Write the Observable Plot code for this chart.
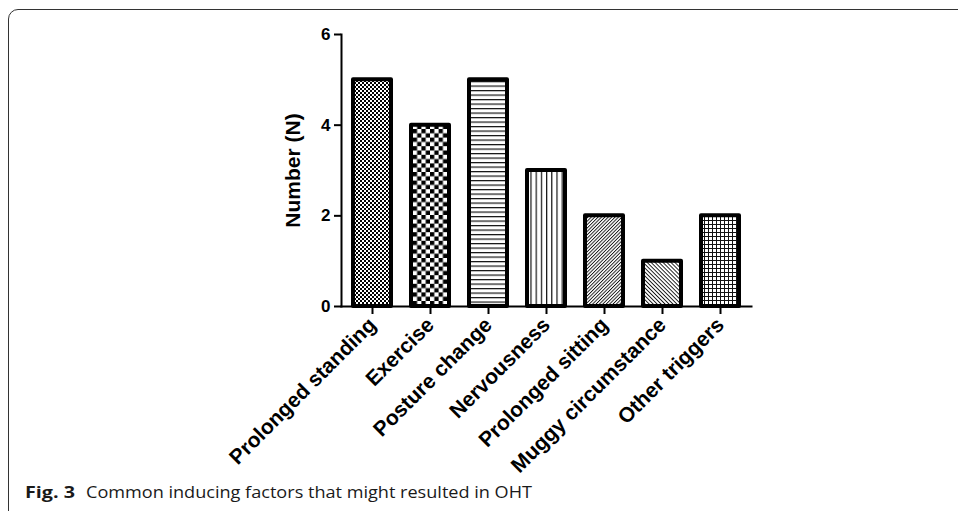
<!DOCTYPE html>
<html>
<head>
<meta charset="utf-8">
<script src="https://cdn.jsdelivr.net/npm/d3@7"></script>
<script src="https://cdn.jsdelivr.net/npm/@observablehq/plot@0.6"></script>
<style>
  html, body { margin: 0; padding: 0; background: #fff; overflow: hidden; }
  body { width: 958px; height: 511px; position: relative; }
  #frame { position: absolute; left: 8px; top: 9px; width: 1000px; height: 520px;
           border: 1.5px solid #333; border-radius: 10px; box-sizing: border-box; }
  #chart { position: absolute; left: 0; top: 0; }
  .cap { position: absolute; top: 484px; font-family: "Open Sans", sans-serif; font-size: 16px; line-height: 1;
         color: #1a1a1a; white-space: nowrap; display: inline-block; transform-origin: 0 0; }
  #capA { left: 25px; font-weight: bold; }
  #capB { left: 86px; }
</style>
</head>
<body>
<div id="frame"></div>
<div id="chart"></div>
<span class="cap" id="capA">Fig. 3</span>
<span class="cap" id="capB">Common inducing factors that might resulted in OHT</span>
<script>
const categories = ["Prolonged standing", "Exercise", "Posture change", "Nervousness", "Prolonged sitting", "Muggy circumstance", "Other triggers"];
const counts = [5, 4, 5, 3, 2, 1, 2];
const patternIds = ["fineCheck", "bigCheck", "hLines", "vLines", "diagUp", "diagDown", "grid"];
const yTicks = [0, 2, 4, 6];
const yLabel = "Number (N)";

const data = categories.map((c, i) => ({category: c, value: counts[i], fill: `url(#${patternIds[i]})`}));

const H = 500;
const svg = Plot.plot({
  width: 958,
  height: H,
  marginLeft: 341,
  marginRight: 207,
  marginTop: 34,
  marginBottom: H - 306,
  style: {fontFamily: "'Liberation Sans', Arial, sans-serif", color: "#000", background: "transparent"},
  x: {domain: categories, paddingInner: 0.35, paddingOuter: 0.19},
  y: {domain: [0, 6]},
  color: {type: "identity"},
  marks: [
    Plot.barY(data, {x: "category", y: "value", fill: "fill", stroke: "#000", strokeWidth: 4, strokeLinejoin: "round"}),
    Plot.frame({anchor: "left", stroke: "#000", strokeWidth: 2}),
    Plot.frame({anchor: "bottom", stroke: "#000", strokeWidth: 2}),
    Plot.axisY({ticks: yTicks, tickFormat: d3.format("d"), tickSize: 7, tickPadding: 4, strokeWidth: 2,
      fontSize: 17, fontWeight: "bold", label: null}),
    Plot.text([yLabel], {frameAnchor: "left", text: d => d, rotate: -90, dx: -48, textAnchor: "middle",
      fontSize: 21, fontWeight: "bold", fill: "#000"}),
    Plot.axisX({tickSize: 8, tickRotate: -45, tickPadding: 7, strokeWidth: 2, fontSize: 21, fontWeight: "bold", label: null})
  ]
});
document.getElementById("chart").appendChild(svg);

// pattern definitions
const defs = d3.select(svg).insert("defs", ":first-child");
function pat(id, w, h, transform) {
  const p = defs.append("pattern").attr("id", id).attr("patternUnits", "userSpaceOnUse")
    .attr("width", w).attr("height", h);
  if (transform) p.attr("patternTransform", transform);
  p.append("rect").attr("width", w).attr("height", h).attr("fill", "#fff");
  return p;
}
let p;
p = pat("fineCheck", 4, 4);
p.append("rect").attr("x", 0).attr("y", 0).attr("width", 2).attr("height", 2).attr("fill", "#000");
p.append("rect").attr("x", 2).attr("y", 2).attr("width", 2).attr("height", 2).attr("fill", "#000");
p = pat("bigCheck", 8.6, 8.6);
p.append("rect").attr("x", 0).attr("y", 0).attr("width", 4.3).attr("height", 4.3).attr("fill", "#000");
p.append("rect").attr("x", 4.3).attr("y", 4.3).attr("width", 4.3).attr("height", 4.3).attr("fill", "#000");
p = pat("hLines", 10, 4.5);
p.append("rect").attr("x", 0).attr("y", 0).attr("width", 10).attr("height", 1.2).attr("fill", "#111");
p = pat("vLines", 5.2, 10);
p.append("rect").attr("x", 0).attr("y", 0).attr("width", 1.2).attr("height", 10).attr("fill", "#111");
p = pat("diagUp", 2.4, 10, "rotate(45)");
p.append("rect").attr("x", 0).attr("y", 0).attr("width", 0.9).attr("height", 10).attr("fill", "#111");
p = pat("diagDown", 2.8, 10, "rotate(-45)");
p.append("rect").attr("x", 0).attr("y", 0).attr("width", 0.9).attr("height", 10).attr("fill", "#111");
p = pat("grid", 4, 4);
p.append("rect").attr("x", 0).attr("y", 0).attr("width", 4).attr("height", 1).attr("fill", "#111");
p.append("rect").attr("x", 0).attr("y", 0).attr("width", 1).attr("height", 4).attr("fill", "#111");

// fit caption widths to the reference
function fit(id, target) {
  const el = document.getElementById(id);
  const w = el.getBoundingClientRect().width;
  if (w > 0) el.style.transform = `scaleX(${target / w})`;
}
fit("capA", 50);
fit("capB", 446);
</script>
</body>
</html>
